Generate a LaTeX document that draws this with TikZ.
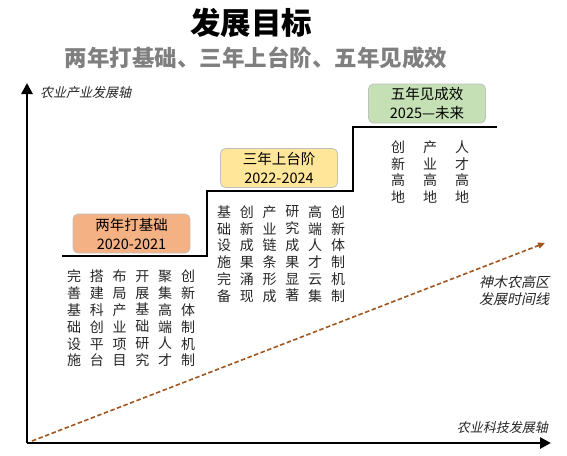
\documentclass[tikz,border=0pt]{standalone}
\usepackage{fontspec}
\setmainfont{Noto Sans CJK SC}
\newfontfamily\cjkit[FakeSlant=0.22]{Noto Sans CJK SC}
\usetikzlibrary{arrows.meta}
\definecolor{boxA}{HTML}{F4B183}
\definecolor{boxB}{HTML}{FFE699}
\definecolor{boxC}{HTML}{C5E0B4}
\definecolor{boxline}{HTML}{BFBFBF}
\definecolor{subgray}{HTML}{7F7F7F}
\definecolor{trend}{HTML}{A0561E}
\definecolor{txt}{HTML}{262626}
\tikzset{
  axisline/.style={line width=2.6pt, -{Triangle[length=11pt,width=11pt]}},
  stairline/.style={line width=1.6pt, black},
  stagebox/.style={rounded corners=5pt, draw=boxline, line width=0.8pt,
    minimum width=117pt, minimum height=39pt, align=center, text=black,
    font=\fontsize{14.5}{19}\selectfont, inner sep=0pt},
  colstack/.style={align=center, text=txt, inner sep=0pt,
    font=\fontsize{14}{16.8}\selectfont},
  axislabel/.style={text=txt, inner sep=0pt, font=\cjkit\fontsize{13}{16}\selectfont},
  trendline/.style={draw=trend, line width=1.6pt, dash pattern=on 4.5pt off 2.5pt,
    -{Triangle[length=7pt,width=6pt]}},
}
\begin{document}
\begin{tikzpicture}[x=1pt,y=-1pt]
\useasboundingbox (0,0) rectangle (567,455);
% titles
\node[font=\bfseries\fontsize{30.5}{34}\selectfont] (title) at (251,23) {发展目标};
\node[font=\bfseries\fontsize{22.5}{26}\selectfont, text=subgray] (subtitle) at (256,58) {两年打基础、三年上台阶、五年见成效};
% axes
\coordinate (origin) at (27,443);
\coordinate (ytip) at (27,83);
\coordinate (xtip) at (551,443);
\draw[axisline] (origin) -- (ytip);
\draw[axisline] (origin) -- (xtip);
\node[axislabel, anchor=west] (ylabel) at (40,93) {农业产业发展轴};
\node[axislabel, anchor=east] (xlabel) at (548,428) {农业科技发展轴};
% trend line
\coordinate (tstart) at (32,441);
\coordinate (tend) at (545,243);
\draw[trendline] (tstart) -- (tend);
\node[align=center, text=txt, inner sep=0pt, font=\cjkit\fontsize{14}{17}\selectfont] (tlabel) at (514,291) {神木农高区\\发展时间线};
% stairs
\coordinate (s0) at (62,256);
\coordinate (s1) at (207,256);
\coordinate (s2) at (207,191);
\coordinate (s3) at (353,191);
\coordinate (s4) at (353,127);
\coordinate (s5) at (497,127);
\draw[stairline] (s0) -- (s1) -- (s2) -- (s3) -- (s4) -- (s5);
% stage boxes
\node[stagebox, fill=boxA] (stage1) at (131.5,233.5) {两年打基础\\2020-2021};
\node[stagebox, fill=boxB] (stage2) at (279,168) {三年上台阶\\2022-2024};
\node[stagebox, fill=boxC] (stage3) at (427,103.5) {五年见成效\\2025—未来};
% stage 1 columns
\node[colstack] (a1) at (74,318.5) {完\\善\\基\\础\\设\\施};
\node[colstack] (a2) at (96.8,318.5) {搭\\建\\科\\创\\平\\台};
\node[colstack] (a3) at (119.6,318.5) {布\\局\\产\\业\\项\\目};
\node[colstack] (a4) at (142.4,318.5) {开\\展\\基\\础\\研\\究};
\node[colstack] (a5) at (165.2,318.5) {聚\\集\\高\\端\\人\\才};
\node[colstack] (a6) at (188,318.5) {创\\新\\体\\制\\机\\制};
% stage 2 columns
\node[colstack] (b1) at (224,254) {基\\础\\设\\施\\完\\备};
\node[colstack] (b2) at (246.8,254) {创\\新\\成\\果\\涌\\现};
\node[colstack] (b3) at (269.6,254) {产\\业\\链\\条\\形\\成};
\node[colstack] (b4) at (292.4,254) {研\\究\\成\\果\\显\\著};
\node[colstack] (b5) at (315.2,254) {高\\端\\人\\才\\云\\集};
\node[colstack] (b6) at (338,254) {创\\新\\体\\制\\机\\制};
% stage 3 columns
\node[colstack] (c1) at (398,172) {创\\新\\高\\地};
\node[colstack] (c2) at (430,172) {产\\业\\高\\地};
\node[colstack] (c3) at (462,172) {人\\才\\高\\地};
\end{tikzpicture}
\end{document}
